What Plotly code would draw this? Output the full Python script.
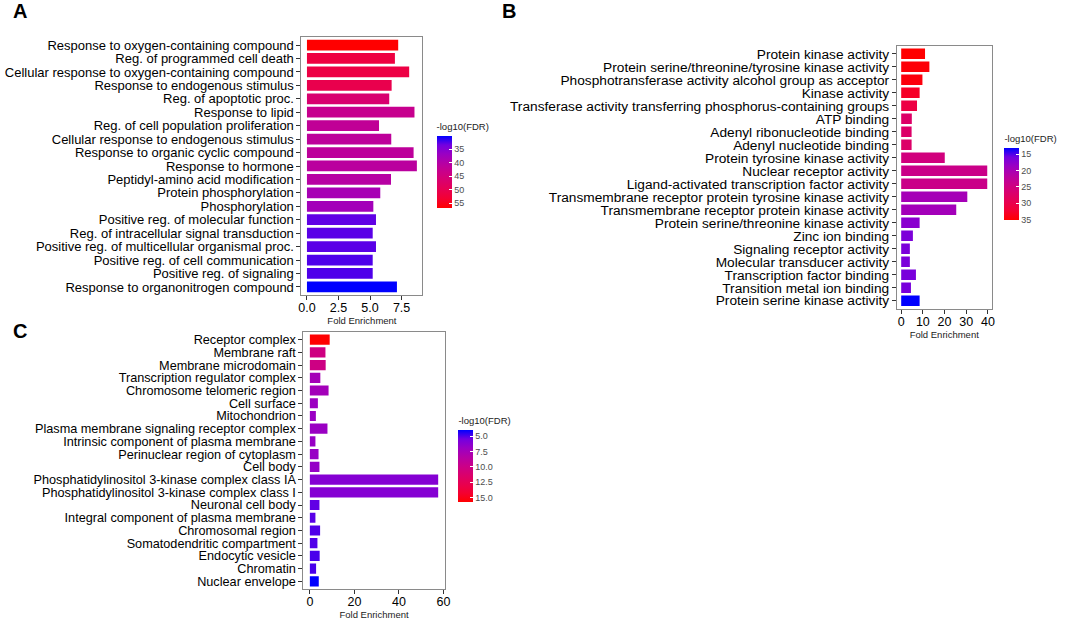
import plotly.graph_objects as go

# ---------------- Data ----------------
a_terms = ["Response to oxygen-containing compound", "Reg. of programmed cell death",
           "Cellular response to oxygen-containing compound", "Response to endogenous stimulus",
           "Reg. of apoptotic proc.", "Response to lipid", "Reg. of cell population proliferation",
           "Cellular response to endogenous stimulus", "Response to organic cyclic compound",
           "Response to hormone", "Peptidyl-amino acid modification", "Protein phosphorylation",
           "Phosphorylation", "Positive reg. of molecular function",
           "Reg. of intracellular signal transduction", "Positive reg. of multicellular organismal proc.",
           "Positive reg. of cell communication", "Positive reg. of signaling",
           "Response to organonitrogen compound"]
a_fold = [7.23, 6.97, 8.10, 6.71, 6.52, 8.52, 5.71, 6.68, 8.45, 8.71, 6.66, 5.81, 5.26,
          5.47, 5.21, 5.47, 5.21, 5.21, 7.13]
a_fdr = [56.9, 52.0, 51.5, 50.5, 46.5, 43.0, 42.0, 41.5, 41.5, 41.0, 40.5, 38.5, 38.0,
         33.0, 32.8, 32.8, 32.5, 32.5, 30.2]
a_ticks = [35, 40, 45, 50, 55]

b_terms = ["Protein kinase activity", "Protein serine/threonine/tyrosine kinase activity",
           "Phosphotransferase activity alcohol group as acceptor", "Kinase activity",
           "Transferase activity transferring phosphorus-containing groups", "ATP binding",
           "Adenyl ribonucleotide binding", "Adenyl nucleotide binding",
           "Protein tyrosine kinase activity", "Nuclear receptor activity",
           "Ligand-activated transcription factor activity",
           "Transmembrane receptor protein tyrosine kinase activity",
           "Transmembrane receptor protein kinase activity",
           "Protein serine/threonine kinase activity", "Zinc ion binding",
           "Signaling receptor activity", "Molecular transducer activity",
           "Transcription factor binding", "Transition metal ion binding",
           "Protein serine kinase activity"]
b_fold = [11.0, 13.0, 9.8, 8.5, 7.3, 4.9, 4.8, 4.8, 20.1, 39.7, 39.7, 30.5, 25.4,
          8.5, 5.4, 4.0, 4.0, 6.8, 4.5, 8.5]
b_fdr = [35.2, 34.8, 34.5, 33.0, 30.8, 27.5, 27.3, 27.3, 25.3, 24.2, 24.2, 19.7, 19.5,
         17.5, 16.5, 16.4, 16.4, 16.3, 16.2, 13.1]
b_ticks = [15, 20, 25, 30, 35]

c_terms = ["Receptor complex", "Membrane raft", "Membrane microdomain",
           "Transcription regulator complex", "Chromosome telomeric region", "Cell surface",
           "Mitochondrion", "Plasma membrane signaling receptor complex",
           "Intrinsic component of plasma membrane", "Perinuclear region of cytoplasm",
           "Cell body", "Phosphatidylinositol 3-kinase complex class IA",
           "Phosphatidylinositol 3-kinase complex class I", "Neuronal cell body",
           "Integral component of plasma membrane", "Chromosomal region",
           "Somatodendritic compartment", "Endocytic vesicle", "Chromatin", "Nuclear envelope"]
c_fold = [8.9, 7.0, 7.1, 4.7, 8.4, 3.6, 2.7, 7.9, 2.5, 3.9, 4.3, 57.6, 57.6, 4.3, 2.5,
          4.6, 3.4, 4.4, 2.8, 4.0]
c_fdr = [15.76, 10.3, 10.2, 7.6, 7.5, 7.1, 7.0, 7.0, 6.9, 6.9, 6.8, 6.2, 6.2, 5.3, 5.2,
         5.1, 5.1, 5.0, 5.0, 4.07]
c_ticks = [5.0, 7.5, 10.0, 12.5, 15.0]

# ---------------- Styling ----------------
W, H = 1065, 623
FONT = "Liberation Sans, Arial, Helvetica, sans-serif"
SCALE = [[0, "#FF0000"], [0.125, "#F40031"], [0.25, "#E80050"], [0.375, "#DA006C"],
         [0.5, "#CA0089"], [0.625, "#B500A5"], [0.75, "#9A00C3"], [0.875, "#7300E0"],
         [1, "#0000FF"]]
CB_TITLE_PX = 17

def px_x(p):
    return p / W

def px_y(p):
    return 1 - p / H

panels = [
    dict(terms=a_terms, fold=a_fold, fdr=a_fdr, cticks=a_ticks, cfmt="{:g}",
         xd=(301, 423), yd=(37, 295), xr=[-0.4355, 9.15], xt=[0, 2.5, 5.0, 7.5], xfmt=".1f",
         ysize=13, cb=dict(x=437.3, top=137.3, bottom=208.3)),
    dict(terms=b_terms, fold=b_fold, fdr=b_fdr, cticks=b_ticks, cfmt="{:g}",
         xd=(901.5, 997), yd=(46, 308.5), xr=[-1.99, 41.7], xt=[0, 10, 20, 30, 40], xfmt="d",
         ysize=13.7, cb=dict(x=1010, top=149, bottom=220)),
    dict(terms=c_terms, fold=c_fold, fdr=c_fdr, cticks=c_ticks, cfmt="{:.1f}",
         xd=(303, 445.4), yd=(332, 589), xr=[-2.88, 60.5], xt=[0, 20, 40, 60], xfmt="d",
         ysize=12.7, cb=dict(x=459.3, top=431.7, bottom=502.3)),
]

fig = go.Figure()
layout = dict(width=W, height=H, margin=dict(l=0, r=0, t=0, b=0),
              paper_bgcolor="white", plot_bgcolor="white", showlegend=False,
              font=dict(family=FONT, color="black"))

for i, p in enumerate(panels, start=1):
    sfx = "" if i == 1 else str(i)
    neg = [-v for v in p["fdr"]]
    fig.add_trace(go.Bar(
        x=p["fold"], y=p["terms"], orientation="h", width=0.8,
        marker=dict(color=neg, coloraxis="coloraxis" + sfx, line=dict(width=0)),
        xaxis="x" + sfx, yaxis="y" + sfx,
        hovertemplate="%{y}<br>Fold Enrichment: %{x}<extra></extra>"))
    n = len(p["terms"])
    layout["xaxis" + sfx] = dict(
        domain=[px_x(p["xd"][0]), px_x(p["xd"][1])], range=p["xr"], anchor="y" + sfx,
        tickvals=p["xt"], tickformat=p["xfmt"], showgrid=False, zeroline=False,
        showline=True, mirror=True, linecolor="#8a8a8a", linewidth=1,
        ticks="outside", ticklen=4, tickcolor="#333333", tickwidth=1,
        ticklabelstandoff=-3,
        tickfont=dict(size=12.5, color="black"),
        title=dict(text="Fold Enrichment", font=dict(size=9.5, color="#222222"), standoff=3))
    layout["yaxis" + sfx] = dict(
        domain=[px_y(p["yd"][1]), px_y(p["yd"][0])], anchor="x" + sfx,
        type="category", categoryorder="array", categoryarray=p["terms"],
        tickmode="array", tickvals=p["terms"], ticktext=p["terms"],
        range=[n - 0.4, -0.6], showgrid=False, zeroline=False,
        showline=True, mirror=True, linecolor="#8a8a8a", linewidth=1,
        ticks="outside", ticklen=4, tickcolor="#333333", tickwidth=1,
        tickfont=dict(size=p["ysize"], color="black"))
    cb = p["cb"]
    layout["coloraxis" + sfx] = dict(
        colorscale=SCALE, cmin=-max(p["fdr"]), cmax=-min(p["fdr"]),
        colorbar=dict(
            x=px_x(cb["x"]), xanchor="left", y=px_y(cb["bottom"]), yanchor="bottom",
            lenmode="pixels", len=cb["bottom"] - cb["top"] + CB_TITLE_PX,
            thickness=15, xpad=0, ypad=0, outlinewidth=0,
            tickvals=[-t for t in p["cticks"]], ticktext=[p["cfmt"].format(t) for t in p["cticks"]],
            ticks="inside", ticklen=3, tickcolor="white", tickwidth=1,
            tickfont=dict(size=9, color="#4d4d4d"),
            title=dict(text="-log10(FDR)", side="top", font=dict(size=9.5, color="#222222"))))

fig.update_layout(**layout)

for letter, x, y in [("A", 16.7, 10.5), ("B", 510, 10.5), ("C", 17, 331)]:
    fig.add_annotation(text="<b>%s</b>" % letter, x=px_x(x), y=px_y(y), xref="paper", yref="paper",
                       xanchor="center", yanchor="middle", showarrow=False,
                       font=dict(size=20, color="black", family=FONT))

fig.write_html("out.html", config={"displayModeBar": False},
               post_script="document.body.style.margin='0px';document.body.style.overflow='hidden';")
